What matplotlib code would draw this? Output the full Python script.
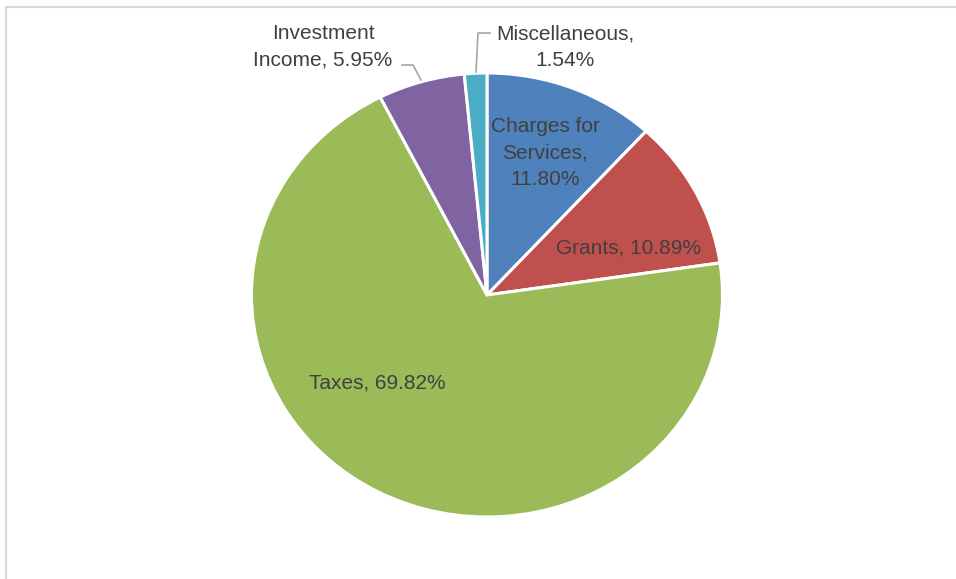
import matplotlib
matplotlib.use("Agg")
import matplotlib.pyplot as plt

# Revenue shares (percent), clockwise from 12 o'clock
categories = ["Charges for Services", "Grants", "Taxes", "Investment Income", "Miscellaneous"]
shares = [11.80, 10.89, 69.82, 5.95, 1.54]
colors = ["#4F81BD", "#C0504D", "#9BBB59", "#8064A2", "#4BACC6"]
label_text = ["Charges for\nServices,\n11.80%", "Grants, 10.89%", "Taxes, 69.82%",
              "Investment\nIncome, 5.95%", "Miscellaneous,\n1.54%"]

W, H = 956, 579
cx, cy = 487.0, 295.0
rx, ry = 235.5, 222.0

fig = plt.figure(figsize=(W / 100, H / 100), dpi=100)
ax = fig.add_axes([0, 0, 1, 1])

wedges, _ = ax.pie(shares, colors=colors, startangle=90, counterclock=False,
                   radius=1.0, center=(0, 0),
                   wedgeprops=dict(edgecolor="white", linewidth=2.2))

# pixel -> data helpers (pie is stretched slightly wider than tall)
def px(x):
    return (x - cx) / rx

def py(y):
    return (cy - y) / ry

ax.set_aspect("auto")
ax.set_xlim(px(0), px(W))
ax.set_ylim(py(H), py(0))
ax.axis("off")

# chart frame (only top and left edges fall inside the image)
ax.plot([px(6), px(W + 5)], [py(7), py(7)], color="#D9D9D9", lw=1.5, clip_on=False)
ax.plot([px(6), px(6)], [py(7), py(H + 5)], color="#D9D9D9", lw=1.5, clip_on=False)

txt = dict(fontsize=15, color="#404040", family="Liberation Sans",
           ha="center", va="center", linespacing=1.52)
label_pos = [(545, 153), (629, 248), (377, 383), (323, 47), (565, 47)]
for s, (x, y) in zip(label_text, label_pos):
    ax.text(px(x), py(y), s, **txt)

# leader lines for the two small slices
ax.plot([px(402), px(413), px(421)], [py(65), py(65), py(80)], color="#A6A6A6", lw=1.2)
ax.plot([px(490), px(478), px(476)], [py(33), py(33), py(72)], color="#A6A6A6", lw=1.2)

fig.savefig("out.png", dpi=100, facecolor="white")
